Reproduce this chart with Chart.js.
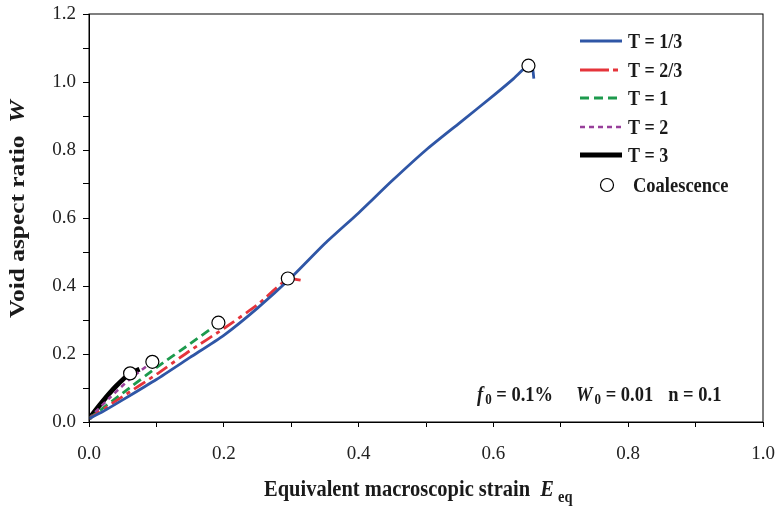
<!DOCTYPE html>
<html>
<head>
<meta charset="utf-8">
<script src="https://cdn.jsdelivr.net/npm/chart.js@4.4.1/dist/chart.umd.min.js"></script>
<style>
  body { margin: 0; background: #fff; }
  #wrap { width: 779px; height: 507px; }
</style>
</head>
<body>
<div id="wrap"><canvas id="chart" width="779" height="507"></canvas></div>
<script>
// T = 1/3
const t13X = [0, 0.02, 0.05, 0.1, 0.15, 0.2, 0.25, 0.3, 0.35, 0.4, 0.45, 0.5, 0.55, 0.6, 0.63, 0.652, 0.658, 0.66];
const t13Y = [0.01, 0.03, 0.065, 0.125, 0.19, 0.255, 0.335, 0.425, 0.525, 0.615, 0.71, 0.8, 0.88, 0.96, 1.01, 1.05, 1.04, 1.01];
// T = 2/3
const t23X = [0, 0.05, 0.1, 0.15, 0.2, 0.25, 0.295, 0.32];
const t23Y = [0.01, 0.075, 0.14, 0.21, 0.275, 0.345, 0.42, 0.415];
// T = 1
const t1X = [0, 0.05, 0.1, 0.15, 0.192, 0.2];
const t1Y = [0.01, 0.085, 0.16, 0.23, 0.29, 0.3];
// T = 2
const t2X = [0, 0.03, 0.06, 0.094];
const t2Y = [0.01, 0.07, 0.125, 0.177];
// T = 3
const t3X = [0, 0.02, 0.04, 0.061, 0.075];
const t3Y = [0.01, 0.06, 0.105, 0.143, 0.155];
// coalescence points
const coalX = [0.061, 0.094, 0.192, 0.295, 0.652];
const coalY = [0.143, 0.177, 0.292, 0.422, 1.048];

const labels = ['T = 1/3', 'T = 2/3', 'T = 1', 'T = 2', 'T = 3'];
const colors = ['#2f56a6', '#e5343b', '#1d9a4d', '#983f9a', '#000000'];

function pts(xs, ys) {
    return xs.map((x, i) => ({ x: x, y: ys[i] }));
}

const SERIF = '"Liberation Serif", "Times New Roman", serif';

const lineSets = [
    { label: labels[0], data: pts(t13X, t13Y), borderColor: colors[0], borderWidth: 2.8, borderDash: [], legendDash: [] },
    { label: labels[1], data: pts(t23X, t23Y), borderColor: colors[1], borderWidth: 2.8, borderDash: [13, 5, 4, 5], legendDash: [29, 4, 5, 4] },
    { label: labels[2], data: pts(t1X, t1Y), borderColor: colors[2], borderWidth: 2.8, borderDash: [9, 5], legendDash: [9, 5] },
    { label: labels[3], data: pts(t2X, t2Y), borderColor: colors[3], borderWidth: 2.6, borderDash: [5, 4], legendDash: [5, 4] },
    { label: labels[4], data: pts(t3X, t3Y), borderColor: colors[4], borderWidth: 4.8, borderDash: [], legendDash: [] }
].map(d => Object.assign(d, { showLine: true, pointRadius: 0, tension: 0.2, fill: false }));

const coalSet = {
    label: 'Coalescence',
    data: pts(coalX, coalY),
    showLine: false,
    pointRadius: 6.5,
    pointBackgroundColor: '#fff',
    pointBorderColor: '#000',
    pointBorderWidth: 1.2,
    order: -1
};

// draw a run of text pieces with their own fonts, stretched by sx / sy
function drawPieces(ctx, x, y, pieces, sx, sy) {
    ctx.save();
    ctx.translate(x, y);
    ctx.scale(sx || 1, sy || 1);
    let cx = 0;
    pieces.forEach(p => {
        ctx.font = p.font;
        ctx.fillText(p.text, cx, p.dy || 0);
        cx += ctx.measureText(p.text).width + (p.gap || 0);
    });
    ctx.restore();
}

const extras = {
    id: 'extras',
    afterDraw(chart) {
        const ctx = chart.ctx;
        const a = chart.chartArea;
        ctx.save();
        ctx.strokeStyle = '#000';
        ctx.lineWidth = 1;
        ctx.strokeRect(a.left, a.top, a.right - a.left, a.bottom - a.top);

        ctx.fillStyle = '#1a1a1a';
        ctx.textBaseline = 'alphabetic';
        ctx.textAlign = 'left';
        const B = s => 'bold ' + s + 'px ' + SERIF;
        const BI = s => 'italic bold ' + s + 'px ' + SERIF;

        // x title
        drawPieces(ctx, 264, 496, [
            { text: 'Equivalent macroscopic strain  ', font: B(20.5) },
            { text: 'E', font: BI(20.5), gap: 4 },
            { text: 'eq', font: B(14.5), dy: 5 }
        ], 1, 1.12);

        // y title
        ctx.save();
        ctx.translate(24, 318);
        ctx.rotate(-Math.PI / 2);
        drawPieces(ctx, 0, 0, [
            { text: 'Void aspect ratio  ', font: B(20) },
            { text: 'W', font: BI(20) }
        ], 1.27, 1);
        ctx.restore();

        // parameters
        drawPieces(ctx, 477, 401, [
            { text: 'f', font: BI(18.5), gap: 2 },
            { text: '0', font: B(13), dy: 3 },
            { text: ' = 0.1%', font: B(18.5), gap: 23 },
            { text: 'W', font: BI(18.5), gap: 2 },
            { text: '0', font: B(13), dy: 3 },
            { text: ' = 0.01', font: B(18.5), gap: 15 },
            { text: 'n = 0.1', font: B(18.5) }
        ], 1, 1.15);

        // legend
        const rows = [41, 70, 98, 127, 155];
        lineSets.forEach((d, i) => {
            ctx.save();
            ctx.strokeStyle = d.borderColor;
            ctx.lineWidth = d.borderWidth;
            ctx.setLineDash(d.legendDash);
            ctx.beginPath();
            ctx.moveTo(580, rows[i]);
            ctx.lineTo(622, rows[i]);
            ctx.stroke();
            ctx.restore();
            drawPieces(ctx, 628, rows[i] + 7, [{ text: d.label, font: B(18) }], 1, 1.15);
        });
        ctx.beginPath();
        ctx.arc(607, 185, 6.5, 0, Math.PI * 2);
        ctx.fillStyle = '#fff';
        ctx.fill();
        ctx.lineWidth = 1.2;
        ctx.strokeStyle = '#000';
        ctx.stroke();
        ctx.fillStyle = '#1a1a1a';
        drawPieces(ctx, 633, 192, [{ text: 'Coalescence', font: B(18.5) }], 1, 1.15);
        ctx.restore();
    }
};

const tickLabel = v => (Math.round(v * 10) % 2 === 0 ? v.toFixed(1) : '');

new Chart(document.getElementById('chart').getContext('2d'), {
    type: 'scatter',
    data: { datasets: [coalSet].concat(lineSets) },
    options: {
        responsive: false,
        animation: false,
        layout: { padding: { top: 14, right: 16, left: 0, bottom: 0 } },
        plugins: { legend: { display: false }, tooltip: { enabled: false } },
        scales: {
            x: {
                type: 'linear', min: 0, max: 1,
                afterFit: s => { s.height = 85; s.paddingLeft = 0; s.paddingRight = 0; },
                grid: { display: true, drawOnChartArea: false, drawTicks: true, tickLength: 5, color: '#000' },
                border: { display: true, color: '#000', width: 1 },
                ticks: {
                    stepSize: 0.1, padding: 16, color: '#222', maxRotation: 0, autoSkip: false,
                    font: { family: SERIF, size: 19 },
                    callback: tickLabel
                }
            },
            y: {
                type: 'linear', min: 0, max: 1.2,
                afterFit: s => { s.width = 89; s.paddingTop = 0; s.paddingBottom = 0; },
                grid: { display: true, drawOnChartArea: false, drawTicks: true, tickLength: 6, color: '#000' },
                border: { display: true, color: '#000', width: 1 },
                ticks: {
                    stepSize: 0.1, padding: 7, color: '#222', autoSkip: false,
                    font: { family: SERIF, size: 19 },
                    callback: tickLabel
                }
            }
        }
    },
    plugins: [extras]
});
</script>
</body>
</html>
